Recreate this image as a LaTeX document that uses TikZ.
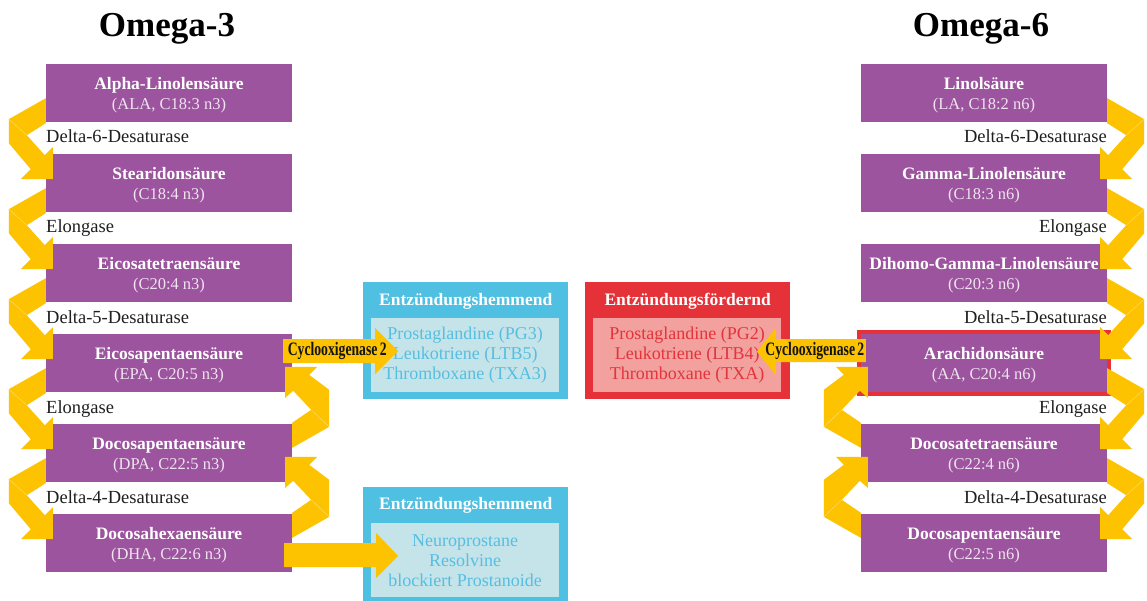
\documentclass[tikz,border=0pt]{standalone}
\usepackage{fontspec}
\setmainfont{Liberation Serif}
\usetikzlibrary{calc}
\definecolor{purp}{RGB}{155,84,157}
\definecolor{arr}{RGB}{253,194,0}
\definecolor{crease}{RGB}{255,216,90}
\definecolor{bluO}{RGB}{79,192,226}
\definecolor{bluI}{RGB}{197,228,234}
\definecolor{bluT}{RGB}{86,190,224}
\definecolor{redO}{RGB}{229,50,56}
\definecolor{redI}{RGB}{242,161,159}
\definecolor{redT}{RGB}{226,52,58}
\definecolor{subc}{RGB}{240,228,240}
\newcommand\acidtxt[2]{{\rule{0pt}{16pt}\bfseries #1}\\{\fontsize{16.5}{20}\selectfont\color{subc}#2}}
\begin{document}
\begin{tikzpicture}[x=1pt,y=-1pt,
  acid/.style={fill=purp, minimum width=246pt, minimum height=58pt, inner sep=0pt,
    align=center, text=white, font=\fontsize{17.5}{20}\selectfont},
  enz/.style={inner sep=0pt, text=black!88, font=\fontsize{18.5}{22}\selectfont},
  title/.style={inner sep=0pt, font=\fontsize{35}{40}\selectfont\bfseries},
  outerbox/.style={inner sep=0pt, minimum width=205pt, anchor=north west},
  innerbox/.style={inner sep=0pt, minimum width=188pt, minimum height=74pt, anchor=north west,
    align=center, font=\fontsize{18}{20}\selectfont},
  boxtitle/.style={inner sep=0pt, text=white, font=\fontsize{17.5}{20}\selectfont\bfseries},
  coxtxt/.style={inner sep=0pt, text=black!92, font=\fontsize{19}{20}\selectfont\bfseries},
  chev/.pic={
    \fill[arr] (0,-24) -- (-37,-3) -- (-37,21) -- (-15,47) -- (-25,57) -- (7,57)
      -- (7,25) -- (-1,33) -- (-19,13) -- (0,1) -- cycle;
    \draw[crease, line width=0.6pt] (-37,-3) -- (-19,13);
  },
  rchev/.pic={
    \fill[arr] (0,-24) -- (-37,-3) -- (-37,34) -- (-17,49) -- (-25,57) -- (7,57)
      -- (7,26) -- (-1,33) -- (-19,14) -- (0,1) -- cycle;
    \draw[crease, line width=0.6pt] (-37,-3) -- (-19,14);
  }]
\useasboundingbox (0,0) rectangle (1147,601);
\fill[white] (0,0) rectangle (1147,601);

% titles
\node[title, anchor=base] (t3) at (167,37) {Omega-3};
\node[title, anchor=base] (t6) at (981,37) {Omega-6};

% omega-3 column
\node[acid] (a1) at (169,93)  {\acidtxt{Alpha-Linolensäure}{(ALA, C18:3 n3)}};
\node[acid] (a2) at (169,183) {\acidtxt{Stearidonsäure}{(C18:4 n3)}};
\node[acid] (a3) at (169,273) {\acidtxt{Eicosatetraensäure}{(C20:4 n3)}};
\node[acid] (a4) at (169,363) {\acidtxt{Eicosapentaensäure}{(EPA, C20:5 n3)}};
\node[acid] (a5) at (169,453) {\acidtxt{Docosapentaensäure}{(DPA, C22:5 n3)}};
\node[acid] (a6) at (169,543) {\acidtxt{Docosahexaensäure}{(DHA, C22:6 n3)}};

\node[enz, anchor=base west] (e1) at (46,143) {Delta-6-Desaturase};
\node[enz, anchor=base west] (e2) at (46,233) {Elongase};
\node[enz, anchor=base west] (e3) at (46,323) {Delta-5-Desaturase};
\node[enz, anchor=base west] (e4) at (46,413) {Elongase};
\node[enz, anchor=base west] (e5) at (46,503) {Delta-4-Desaturase};

% omega-6 column
\node[acid] (b1) at (984,93)  {\acidtxt{Linolsäure}{(LA, C18:2 n6)}};
\node[acid] (b2) at (984,183) {\acidtxt{Gamma-Linolensäure}{(C18:3 n6)}};
\node[acid] (b3) at (984,273) {\acidtxt{Dihomo-Gamma-Linolensäure}{(C20:3 n6)}};
\node[acid] (b4) at (984,363) {\acidtxt{Arachidonsäure}{(AA, C20:4 n6)}};
\node[acid] (b5) at (984,453) {\acidtxt{Docosatetraensäure}{(C22:4 n6)}};
\node[acid] (b6) at (984,543) {\acidtxt{Docosapentaensäure}{(C22:5 n6)}};
\draw[redO, line width=4pt] ($(b4.north west)+(-2,-2)$) rectangle ($(b4.south east)+(2,2)$);

\node[enz, anchor=base east] (f1) at (1107,143) {Delta-6-Desaturase};
\node[enz, anchor=base east] (f2) at (1107,233) {Elongase};
\node[enz, anchor=base east] (f3) at (1107,323) {Delta-5-Desaturase};
\node[enz, anchor=base east] (f4) at (1107,413) {Elongase};
\node[enz, anchor=base east] (f5) at (1107,503) {Delta-4-Desaturase};

% middle boxes
\node[outerbox, fill=bluO, minimum height=117pt] (m1) at (363,282) {};
\node[innerbox, fill=bluI, text=bluT] (m1i) at (371,318)
  {Prostaglandine (PG3)\\Leukotriene (LTB5)\\Thromboxane (TXA3)};
\node[boxtitle] (m1t) at ($(m1.north)+(0,19)$) {Entzündungshemmend};

\node[outerbox, fill=redO, minimum height=117pt] (m2) at (585,282) {};
\node[innerbox, fill=redI, text=redT] (m2i) at (593,318)
  {Prostaglandine (PG2)\\Leukotriene (LTB4)\\Thromboxane (TXA)};
\node[boxtitle] (m2t) at ($(m2.north)+(0,19)$) {Entzündungsfördernd};

\node[outerbox, fill=bluO, minimum height=118pt] (m3) at (363,487) {};
\node[innerbox, fill=bluI, text=bluT] (m3i) at (371,523)
  {Neuroprostane\\Resolvine\\blockiert Prostanoide};
\node[boxtitle] (m3t) at ($(m3.north)+(0,18)$) {Entzündungshemmend};

% chevron arrows, omega-3
\foreach \n in {a1,a2,a3,a4,a5} { \pic at (\n.south west) {chev}; }
\pic[rotate=180] at (a5.north east) {rchev};
\pic[rotate=180] at (a6.north east) {rchev};
% chevron arrows, omega-6
\foreach \n in {b1,b2,b3,b4,b5} { \pic[xscale=-1] at (\n.south east) {chev}; }
\pic[yscale=-1] at (b5.north west) {rchev};
\pic[yscale=-1] at (b6.north west) {rchev};

% Cyclooxigenase arrows
\fill[arr] ($(a4.east)+(-9,-24)$) -- ($(a4.east)+(83,-24)$) -- ($(a4.east)+(83,-35)$)
  -- ($(a4.east)+(106,-12)$) -- ($(a4.east)+(83,11)$) -- ($(a4.east)+(83,0)$)
  -- ($(a4.east)+(-9,0)$) -- cycle;
\node[coxtxt] (c1) at ($(a4.east)+(45,-12)$) {\scalebox{0.72}[1]{Cyclooxigenase\,2}};

\fill[arr] ($(b4.west)+(5,-24)$) -- ($(b4.west)+(-85,-24)$) -- ($(b4.west)+(-85,-35)$)
  -- ($(b4.west)+(-104,-11.5)$) -- ($(b4.west)+(-85,12)$) -- ($(b4.west)+(-85,-1)$)
  -- ($(b4.west)+(5,-1)$) -- cycle;
\node[coxtxt] (c2) at ($(b4.west)+(-46,-12)$) {\scalebox{0.72}[1]{Cyclooxigenase\,2}};

\fill[arr] ($(a6.east)+(-8,0)$) -- ($(a6.east)+(84,0)$) -- ($(a6.east)+(84,-10)$)
  -- ($(a6.east)+(106,13)$) -- ($(a6.east)+(84,35)$) -- ($(a6.east)+(84,24)$)
  -- ($(a6.east)+(-8,24)$) -- cycle;
\end{tikzpicture}
\end{document}
